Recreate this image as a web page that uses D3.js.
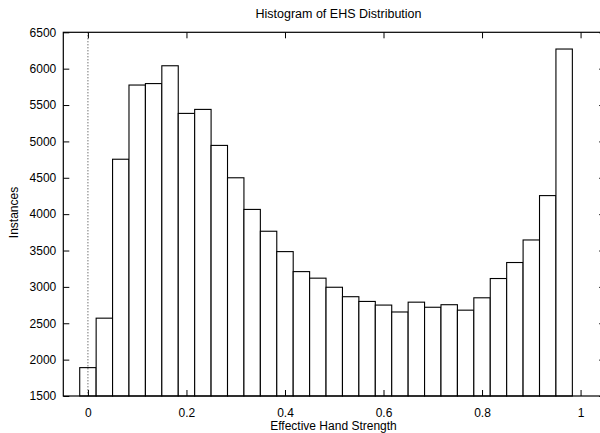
<!DOCTYPE html>
<html>
<head>
<meta charset="utf-8">
<script src="https://cdn.jsdelivr.net/npm/d3@7"></script>
<style>
  html, body { margin: 0; padding: 0; background: #fff; }
  svg { display: block; font-family: "Liberation Sans", Arial, Helvetica, sans-serif; }
</style>
</head>
<body>
<div id="chart"></div>
<script>
(function () {
    // histogram bins: centre of each bin (width 1/30) and the count in it
    const binWidth = 1 / 30;
    const binCenters = d3.range(30).map(function (i) { return i / 30; });
    const counts = [
        1890, 2570, 4755, 5775, 5795, 6040, 5385, 5440, 4945, 4500,
        4065, 3765, 3485, 3210, 3120, 2995, 2865, 2800, 2750, 2655,
        2790, 2720, 2755, 2680, 2850, 3115, 3335, 3645, 4255, 6270
    ];

    const xTicks = [0, 0.2, 0.4, 0.6, 0.8, 1];
    const yTicks = [1500, 2000, 2500, 3000, 3500, 4000, 4500, 5000, 5500, 6000, 6500];

    const width = 600;
    const height = 433;
    const left = 63.3, right = 605.2, top = 32.3, bottom = 396;
    const tickLen = 6;

    var svg = d3.select('#chart').append('svg')
        .attr('width', width)
        .attr('height', height);

    var x = d3.scaleLinear().domain([-0.05, 1.05]).range([left, right]);
    var y = d3.scaleLinear().domain([1500, 6500]).range([bottom, top]);

    // bars
    var barW = x(binWidth) - x(0);
    svg.append('g').selectAll('rect')
        .data(counts)
        .enter().append('rect')
        .attr('x', function (d, i) { return x(binCenters[i] - binWidth / 2); })
        .attr('y', function (d) { return y(d); })
        .attr('width', barW)
        .attr('height', function (d) { return bottom - y(d); })
        .attr('fill', '#fff')
        .attr('stroke', '#000')
        .attr('stroke-width', 1.1);

    // zero axis (dotted)
    svg.append('line')
        .attr('x1', x(0)).attr('x2', x(0))
        .attr('y1', top).attr('y2', bottom)
        .attr('stroke', '#000')
        .attr('stroke-width', 0.8)
        .attr('stroke-dasharray', '1,2');

    // axes, ticks pointing inward
    var xAxis = svg.append('g')
        .attr('transform', 'translate(0,' + bottom + ')')
        .call(d3.axisBottom(x).tickValues(xTicks).tickFormat(function (d) { return String(d); })
            .tickSizeInner(-tickLen).tickSizeOuter(0).tickPadding(12.5));
    var xAxisTop = svg.append('g')
        .attr('transform', 'translate(0,' + top + ')')
        .call(d3.axisTop(x).tickValues(xTicks).tickFormat('')
            .tickSizeInner(-tickLen).tickSizeOuter(0));
    var yAxis = svg.append('g')
        .attr('transform', 'translate(' + left + ',0)')
        .call(d3.axisLeft(y).tickValues(yTicks).tickFormat(function (d) { return String(d); })
            .tickSizeInner(-tickLen).tickSizeOuter(0).tickPadding(7));
    var yAxisRight = svg.append('g')
        .attr('transform', 'translate(' + right + ',0)')
        .call(d3.axisRight(y).tickValues(yTicks).tickFormat('')
            .tickSizeInner(-tickLen).tickSizeOuter(0));

    [xAxis, xAxisTop, yAxis, yAxisRight].forEach(function (g) {
        g.select('.domain').remove();
        g.selectAll('line').attr('stroke', '#000');
        g.selectAll('text').attr('font-size', 12).attr('font-family', null).attr('fill', '#000');
    });

    // frame
    svg.append('rect')
        .attr('x', left).attr('y', top)
        .attr('width', right - left).attr('height', bottom - top)
        .attr('fill', 'none')
        .attr('stroke', '#000')
        .attr('stroke-width', 1.2);

    // labels
    svg.append('text')
        .attr('x', 338.5).attr('y', 18)
        .attr('text-anchor', 'middle')
        .attr('font-size', 12.5)
        .text('Histogram of EHS Distribution');

    svg.append('text')
        .attr('x', 333.5).attr('y', 430)
        .attr('text-anchor', 'middle')
        .attr('font-size', 12)
        .text('Effective Hand Strength');

    svg.append('text')
        .attr('transform', 'translate(18,212.5) rotate(-90)')
        .attr('text-anchor', 'middle')
        .attr('font-size', 12)
        .text('Instances');
})();
</script>
</body>
</html>
